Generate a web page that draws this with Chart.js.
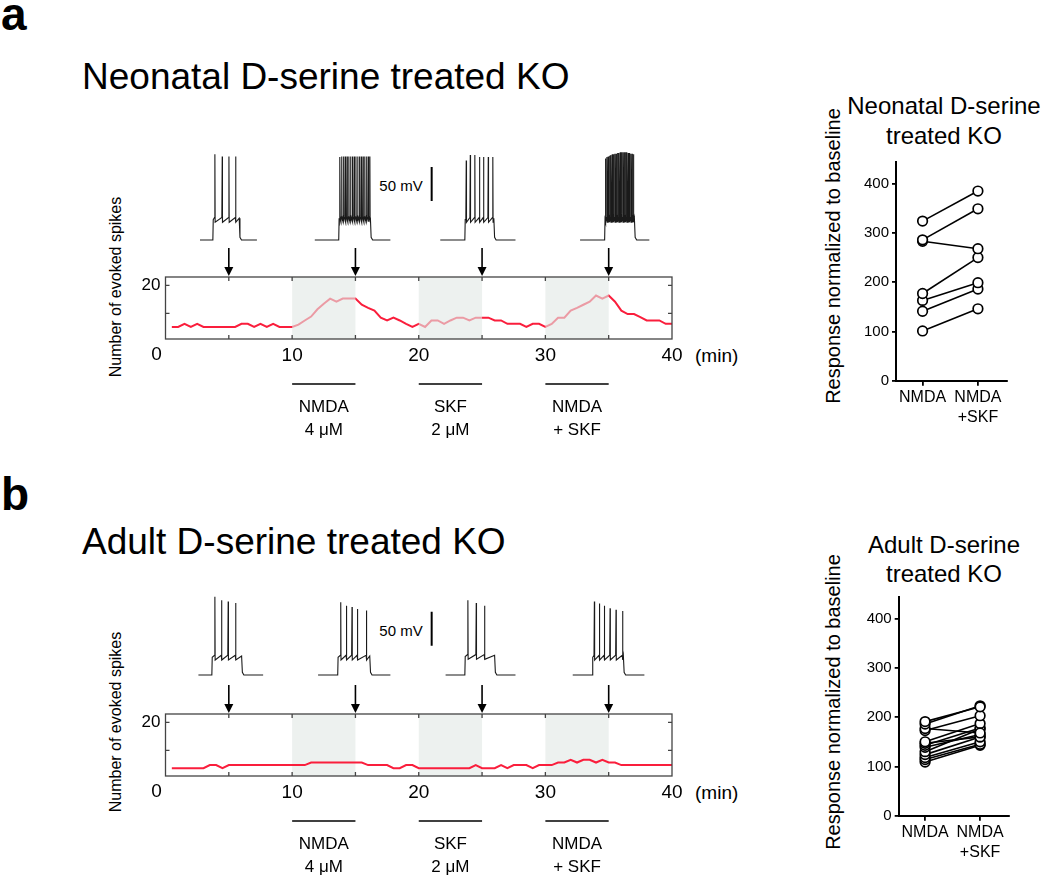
<!DOCTYPE html>
<html>
<head>
<meta charset="utf-8">
<script src="https://cdn.jsdelivr.net/npm/chart.js@4.4.0/dist/chart.umd.min.js"></script>
<style>
body { margin: 0; background: #fff; font-family: "Liberation Sans", Arial, sans-serif; color: #000; }
#page { position: relative; width: 1050px; height: 880px; overflow: hidden; }
canvas { position: absolute; }
.c { position: absolute; white-space: nowrap; line-height: 1; transform: translate(-50%, -50%); }
.l { position: absolute; white-space: nowrap; line-height: 1; transform: translate(0, -50%); }
.v { position: absolute; white-space: nowrap; line-height: 1; transform: translate(-50%, -50%) rotate(-90deg); }
</style>
</head>
<body>
<div id="page">
  <div class="l" style="left:1px;top:14px;font-size:46px;font-weight:bold">a</div>
  <div class="l" style="left:82px;top:76px;font-size:37px">Neonatal D-serine treated KO</div>
  <div class="c" style="left:401px;top:185px;font-size:15px">50 mV</div>
  <div class="v" style="left:116px;top:287px;font-size:16px">Number of evoked spikes</div>
  <div class="l" style="left:695px;top:355px;font-size:19px">(min)</div>
  <div class="c" style="left:944px;top:106px;font-size:24px">Neonatal D-serine</div>
  <div class="c" style="left:944px;top:136px;font-size:24px">treated KO</div>
  <div class="v" style="left:833px;top:256px;font-size:20px">Response normalized to baseline</div>

  <div class="l" style="left:1px;top:494px;font-size:46px;font-weight:bold">b</div>
  <div class="l" style="left:82px;top:541px;font-size:37px">Adult D-serine treated KO</div>
  <div class="c" style="left:401px;top:630px;font-size:15px">50 mV</div>
  <div class="v" style="left:116px;top:722px;font-size:16px">Number of evoked spikes</div>
  <div class="l" style="left:695px;top:792px;font-size:19px">(min)</div>
  <div class="c" style="left:944px;top:545px;font-size:24px">Adult D-serine</div>
  <div class="c" style="left:944px;top:574px;font-size:24px">treated KO</div>
  <div class="v" style="left:833px;top:702px;font-size:20px">Response normalized to baseline</div>

  <canvas id="traceA" width="640" height="110" style="left:100px;top:140px"></canvas>
  <canvas id="courseA" width="640" height="215" style="left:100px;top:240px"></canvas>
  <canvas id="pairA" width="240" height="280" style="left:800px;top:150px"></canvas>
  <canvas id="traceB" width="640" height="110" style="left:100px;top:575px"></canvas>
  <canvas id="courseB" width="640" height="215" style="left:100px;top:677px"></canvas>
  <canvas id="pairB" width="240" height="280" style="left:800px;top:585px"></canvas>
</div>
<script>
const FONT = '"Liberation Sans", Arial, sans-serif'
const RED = 'rgb(250,30,60)'

// time axis of the spike-count plots (min)
const TIMES = [0.5,1,1.5,2,2.5,3,3.5,4,4.5,5,5.5,6,6.5,7,7.5,8,8.5,9,9.5,10,
  10.5,11,11.5,12,12.5,13,13.5,14,14.5,15,15.5,16,16.5,17,17.5,18,18.5,19,19.5,20,
  20.5,21,21.5,22,22.5,23,23.5,24,24.5,25,25.5,26,26.5,27,27.5,28,28.5,29,29.5,30,
  30.5,31,31.5,32,32.5,33,33.5,34,34.5,35,35.5,36,36.5,37,37.5,38,38.5,39,39.5,40]

// number of evoked spikes, neonatal treated
const SPIKES_A = [5.2,5.2,6.3,5.2,6.3,5.2,5.2,5.2,5.2,5.2,5.2,6.3,6.3,5.2,6.3,5.2,6.3,5.2,5.2,5.2,
  6.0,7.5,8.9,11.5,13.5,15.3,14.2,15.3,15.3,15.3,13.1,12.0,11.0,8.5,7.5,8.5,7.5,6.3,5.2,6.3,
  5.2,7.5,7.5,6.3,7.5,8.5,8.5,7.5,8.5,8.5,8.5,7.5,7.5,6.3,6.3,6.3,5.2,6.3,6.3,5.2,
  6.3,8.5,8.5,11.0,12.0,13.1,14.2,16.4,15.3,16.4,14.2,11.0,9.8,9.8,8.7,7.5,7.5,7.5,6.3,6.3]

// number of evoked spikes, adult treated
const SPIKES_B = [3.7,3.7,3.7,3.7,3.7,3.7,4.8,4.8,3.7,4.8,4.8,4.8,4.8,4.8,4.8,4.8,4.8,4.8,4.8,4.8,
  4.8,4.8,5.7,5.7,5.7,5.7,5.7,5.7,5.7,5.7,5.7,4.8,4.8,4.8,4.8,3.7,3.7,4.8,4.8,3.7,
  3.7,3.7,3.7,3.7,3.7,3.7,3.7,3.7,4.8,3.7,3.7,3.7,4.8,3.7,4.8,4.8,4.8,3.7,4.8,4.8,
  4.8,5.7,5.7,6.7,5.7,6.7,6.7,5.7,6.7,5.7,5.7,4.8,4.8,4.8,4.8,4.8,4.8,4.8,4.8,4.8]

const X_TICKS = [0, 10, 20, 30, 40]
const FRAME_TICKS = [5, 10, 15, 20, 25, 30, 35]
const ARROW_TIMES = [5, 15, 25, 35]
const DRUG_WINDOWS = [[10, 15], [20, 25], [30, 35]]
const DRUG_LABELS = [['NMDA', '4 \u03bcM'], ['SKF', '2 \u03bcM'], ['NMDA', '+ SKF']]

// example traces: positions in the same minutes axis, voltages in mV
const REST = -70
const TRACES_A = [
  {start: 2.72, on: 3.77, off: 5.82, end: 7.22, plateau: -40,
   spikes: [3.90, 4.48, 5.01, 5.54], peaks: [56, 53, 53, 53]},
  {start: 11.79, on: 13.71, off: 16.18, end: 17.76, plateau: -39,
   spikes: [13.78,13.92,14.06,14.20,14.34,14.48,14.62,14.76,14.90,15.04,15.18,15.32,15.46,15.60,15.74,15.88,16.02,16.14],
   peaks: [52,53,53,53,53,53,53,53,53,53,53,53,53,53,53,53,53,53]},
  {start: 21.70, on: 23.67, off: 25.93, end: 27.64, plateau: -40,
   spikes: [23.75, 24.07, 24.43, 24.80, 25.12, 25.49, 25.85], peaks: [47, 55, 55, 52, 52, 52, 52]},
  {start: 32.74, on: 34.71, off: 37.03, end: 38.21, plateau: -40,
   spikes: [34.76,34.86,34.96,35.07,35.17,35.28,35.38,35.49,35.59,35.70,35.80,35.91,36.01,36.12,36.22,36.33,36.43,36.54,36.64,36.75,36.85,36.96],
   peaks: [50,52,53,54,55,56,56,57,57,58,58,59,59,59,59,59,59,58,58,57,57,56]}
]
const TRACES_B = [
  {start: 2.60, on: 3.69, off: 6.01, end: 7.71, plateau: -44,
   spikes: [3.90, 4.43, 4.95, 5.54], peaks: [45, 40, 38, 36]},
  {start: 12.05, on: 13.63, off: 16.13, end: 17.76, plateau: -44,
   spikes: [13.84, 14.29, 14.73, 15.16, 15.87], peaks: [37, 32, 30, 27, 25]},
  {start: 22.12, on: 23.67, off: 25.99, end: 27.64, plateau: -43,
   spikes: [23.88, 24.54, 25.20], peaks: [40, 36, 32]},
  {start: 32.16, on: 33.74, off: 36.16, end: 37.82, plateau: -44,
   spikes: [33.87, 34.27, 34.66, 35.11, 35.58, 36.10], peaks: [38, 35, 32, 28, 26, 24]}
]
const SCALE_BAR_A = [37.5, -12.5]
const SCALE_BAR_B = [23, -27]
const SCALE_BAR_AT = 21.02

// paired responses (% of baseline)
const CATEGORIES = ['NMDA', ['NMDA', '+SKF']]
const PAIR_TICKS = [0, 100, 200, 300, 400]
const NMDA_A = [324, 286, 283, 177, 163, 141, 101]
const NMDA_SKF_A = [385, 349, 268, 250, 199, 186, 146]
const NMDA_B = [191, 186, 177, 173, 150, 147, 143, 139, 130, 124, 118, 114, 109]
const NMDA_SKF_B = [221, 223, 168, 203, 187, 160, 178, 165, 176, 160, 150, 145, 143]

Chart.defaults.font.family = FONT
Chart.defaults.color = '#000'

function tracePoints(tr) {
  let pts = [{x: tr.start, y: REST}, {x: tr.on - 0.03, y: REST}, {x: tr.on, y: tr.plateau}]
  tr.spikes.forEach((t, i) => {
    pts.push({x: t - 0.03, y: tr.plateau + 3})
    pts.push({x: t, y: tr.peaks[i]})
    pts.push({x: t + 0.02, y: tr.plateau - 4})
  })
  pts.push({x: tr.off, y: tr.plateau + 2})
  pts.push({x: tr.off + 0.06, y: REST + 4})
  pts.push({x: tr.off + 0.18, y: REST})
  pts.push({x: tr.end, y: REST})
  return pts
}

function makeTraces(id, traces, bar) {
  let sets = traces.map(tr => ({data: tracePoints(tr), borderColor: '#1a1a1a', borderWidth: 1.1}))
  sets.push({data: [{x: SCALE_BAR_AT, y: bar[0]}, {x: SCALE_BAR_AT, y: bar[1]}], borderColor: '#000', borderWidth: 2})
  new Chart(document.getElementById(id), {
    type: 'line',
    data: {datasets: sets},
    options: {
      responsive: false, animation: false, devicePixelRatio: 1,
      layout: {padding: {left: 65.5, right: 68, top: 10, bottom: 5}},
      elements: {point: {radius: 0}, line: {tension: 0}},
      plugins: {legend: {display: false}, tooltip: {enabled: false}},
      scales: {
        x: {type: 'linear', min: 0, max: 40, display: false},
        y: {min: -77.4, max: 62.4, display: false}
      }
    }
  })
}

function shade(chart, color) {
  const ctx = chart.ctx, xs = chart.scales.x, a = chart.chartArea
  ctx.save()
  ctx.fillStyle = color
  DRUG_WINDOWS.forEach(w => {
    let x0 = xs.getPixelForValue(w[0]), x1 = xs.getPixelForValue(w[1])
    ctx.fillRect(x0, a.top, x1 - x0, a.bottom - a.top)
  })
  ctx.restore()
}

const panelDecor = {
  id: 'panelDecor',
  beforeDatasetsDraw(chart, args, opts) {
    if (!opts.shadeOver) shade(chart, '#edf1ef')
  },
  afterDatasetsDraw(chart, args, opts) {
    if (opts.shadeOver) shade(chart, 'rgba(226,232,229,0.62)')
    const ctx = chart.ctx, xs = chart.scales.x, ys = chart.scales.y, a = chart.chartArea
    ctx.save()
    // frame with inward ticks
    ctx.strokeStyle = '#444'
    ctx.lineWidth = 1.3
    ctx.strokeRect(a.left, a.top, a.right - a.left, a.bottom - a.top)
    ctx.beginPath()
    FRAME_TICKS.forEach(t => {
      let x = xs.getPixelForValue(t)
      ctx.moveTo(x, a.top); ctx.lineTo(x, a.top + 4)
      ctx.moveTo(x, a.bottom); ctx.lineTo(x, a.bottom - 4)
    })
    ;[10, 20].forEach(v => {
      let y = ys.getPixelForValue(v)
      ctx.moveTo(a.left, y); ctx.lineTo(a.left + 4, y)
      ctx.moveTo(a.right, y); ctx.lineTo(a.right - 4, y)
    })
    ctx.stroke()
    // arrows pointing at the sampled traces
    ctx.strokeStyle = '#000'
    ctx.fillStyle = '#000'
    ctx.lineWidth = 1.6
    ARROW_TIMES.forEach(t => {
      let x = xs.getPixelForValue(t)
      ctx.beginPath(); ctx.moveTo(x, a.top - 29); ctx.lineTo(x, a.top - 8); ctx.stroke()
      ctx.beginPath(); ctx.moveTo(x - 4.5, a.top - 10); ctx.lineTo(x + 4.5, a.top - 10); ctx.lineTo(x, a.top - 1); ctx.closePath(); ctx.fill()
    })
    // zero label sits left of the corner
    ctx.font = '19px ' + FONT
    ctx.textAlign = 'center'
    ctx.textBaseline = 'middle'
    ctx.fillText('0', a.left - 9, a.bottom + 16)
    // drug application bars
    ctx.lineWidth = 1.5
    ctx.font = '17px ' + FONT
    DRUG_WINDOWS.forEach((w, i) => {
      let x0 = xs.getPixelForValue(w[0]), x1 = xs.getPixelForValue(w[1])
      ctx.beginPath(); ctx.moveTo(x0, a.bottom + 45); ctx.lineTo(x1, a.bottom + 45); ctx.stroke()
      ctx.fillText(DRUG_LABELS[i][0], (x0 + x1) / 2, a.bottom + 68)
      ctx.fillText(DRUG_LABELS[i][1], (x0 + x1) / 2, a.bottom + 91)
    })
    ctx.restore()
  }
}

function makeCourse(id, values, shadeOver) {
  new Chart(document.getElementById(id), {
    type: 'line',
    data: {datasets: [{data: TIMES.map((t, i) => ({x: t, y: values[i]})), borderColor: RED, borderWidth: 2}]},
    options: {
      responsive: false, animation: false, devicePixelRatio: 1,
      layout: {padding: {left: 0, right: 68, top: 37, bottom: 0}},
      elements: {point: {radius: 0}, line: {tension: 0}},
      plugins: {legend: {display: false}, tooltip: {enabled: false}, panelDecor: {shadeOver: shadeOver}},
      scales: {
        x: {
          type: 'linear', min: 0, max: 40,
          afterBuildTicks: s => { s.ticks = X_TICKS.map(v => ({value: v})) },
          afterFit: s => { s.height = 116 },
          grid: {display: false, drawTicks: false}, border: {display: false},
          ticks: {font: {size: 19}, padding: 5, maxRotation: 0, callback: v => v === 0 ? '' : v}
        },
        y: {
          min: 0.9, max: 23,
          afterBuildTicks: s => { s.ticks = [{value: 10}, {value: 20}] },
          afterFit: s => { s.width = 65.5 },
          grid: {display: false, drawTicks: false}, border: {display: false},
          ticks: {font: {size: 17}, padding: 5, callback: v => v === 20 ? '20' : ''}
        }
      }
    },
    plugins: [panelDecor]
  })
}

function makePairs(id, before, after, pad) {
  let sets = before.map((v, i) => ({
    data: [{x: 0, y: v}, {x: 1, y: after[i]}],
    borderColor: '#000', borderWidth: 1.6,
    pointRadius: 4.8, pointBorderWidth: 1.7, pointBorderColor: '#000', pointBackgroundColor: '#fff'
  }))
  new Chart(document.getElementById(id), {
    type: 'line',
    data: {datasets: sets},
    options: {
      responsive: false, animation: false, devicePixelRatio: 1,
      layout: {padding: {left: 0, right: pad.right, top: pad.top, bottom: 0}},
      elements: {line: {tension: 0}},
      plugins: {legend: {display: false}, tooltip: {enabled: false}},
      scales: {
        x: {
          type: 'linear', min: -0.48, max: 1.52,
          afterBuildTicks: s => { s.ticks = [{value: 0}, {value: 1}] },
          afterFit: s => { s.height = 49.3 },
          grid: {drawOnChartArea: false, tickLength: 5, color: '#000', lineWidth: 1.8},
          border: {color: '#000', width: 2},
          ticks: {font: {size: 16, lineHeight: 1.25}, padding: 2, maxRotation: 0, autoSkip: false,
                  callback: (v, i) => CATEGORIES[i]}
        },
        y: {
          min: 0, max: 444,
          afterBuildTicks: s => { s.ticks = PAIR_TICKS.map(v => ({value: v})) },
          afterFit: s => { s.width = pad.left },
          grid: {drawOnChartArea: false, tickLength: 4, color: '#000', lineWidth: 1.8},
          border: {color: '#000', width: 2},
          ticks: {font: {size: 15}, padding: 3}
        }
      }
    }
  })
}

makeTraces('traceA', TRACES_A, SCALE_BAR_A)
makeCourse('courseA', SPIKES_A, true)
makePairs('pairA', NMDA_A, NMDA_SKF_A, {left: 96, right: 33.3, top: 9})
makeTraces('traceB', TRACES_B, SCALE_BAR_B)
makeCourse('courseB', SPIKES_B, false)
makePairs('pairB', NMDA_B, NMDA_SKF_B, {left: 98.7, right: 31.3, top: 8.3})
</script>
</body>
</html>
